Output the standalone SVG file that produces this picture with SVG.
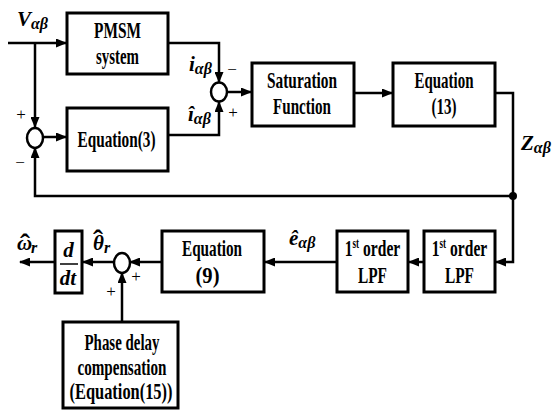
<svg xmlns="http://www.w3.org/2000/svg" width="557" height="410" viewBox="0 0 557 410">
<style>
.box{fill:#fff;stroke:#000;stroke-width:3}
.ln{fill:none;stroke:#000;stroke-width:2.5}
.t{font-family:"Liberation Serif","Times New Roman",serif;font-weight:bold;font-size:24px;text-anchor:middle;fill:#000}
.lab{font-family:"Liberation Serif","Times New Roman",serif;font-weight:bold;font-style:italic;font-size:21px;fill:#000}
.sub{font-size:16px}
.hat{font-size:30px;font-style:normal}
.sg{font-family:"Liberation Serif","Times New Roman",serif;font-size:17px;text-anchor:middle;fill:#000}
.sum{fill:#fff;stroke:#000;stroke-width:2.5}
</style>
<defs>
<marker id="ar" markerUnits="userSpaceOnUse" markerWidth="11" markerHeight="9" refX="10" refY="4.5" orient="auto">
<path d="M0,0 L11,4.5 L0,9 z" fill="#000"/>
</marker>
</defs>
<g id="connectors">
<path class="ln" d="M8,43 H66" marker-end="url(#ar)"/>
<path class="ln" d="M35,43 V127" marker-end="url(#ar)"/>
<path class="ln" d="M43,137 H66" marker-end="url(#ar)"/>
<path class="ln" d="M168,43 H219 V82" marker-end="url(#ar)"/>
<path class="ln" d="M168,135 H219 V102" marker-end="url(#ar)"/>
<path class="ln" d="M227,92 H251" marker-end="url(#ar)"/>
<path class="ln" d="M354,93 H392" marker-end="url(#ar)"/>
<path class="ln" d="M495,93 H513 V262 H496" marker-end="url(#ar)"/>
<path class="ln" d="M513,196 H35 V148" marker-end="url(#ar)"/>
<circle cx="513" cy="196" r="4" fill="#000"/>
<path class="ln" d="M424,262 H409" marker-end="url(#ar)"/>
<path class="ln" d="M337,262 H265" marker-end="url(#ar)"/>
<path class="ln" d="M162,262 H130" marker-end="url(#ar)"/>
<path class="ln" d="M114,262 H83" marker-end="url(#ar)"/>
<path class="ln" d="M55,262 H20" marker-end="url(#ar)"/>
<path class="ln" d="M122,322 V273" marker-end="url(#ar)"/>
</g>
<g id="sum1"><ellipse class="sum" cx="35" cy="138" rx="8" ry="10"/>
<text class="sg" x="21" y="120">+</text><text class="sg" x="20" y="168">−</text></g>
<g id="sum2"><ellipse class="sum" cx="219" cy="92" rx="8" ry="9.5"/>
<text class="sg" x="232" y="75">−</text><text class="sg" x="233" y="118">+</text></g>
<g id="sum3"><ellipse class="sum" cx="122" cy="263" rx="8" ry="10"/>
<text class="sg" x="136" y="282">+</text><text class="sg" x="111" y="297">+</text></g>
<g id="pmsm"><rect class="box" x="67" y="13" width="101" height="61"/>
<text class="t" x="117.5" y="38" textLength="47" lengthAdjust="spacingAndGlyphs">PMSM</text>
<text class="t" x="117.5" y="64" textLength="43" lengthAdjust="spacingAndGlyphs">system</text></g>
<g id="eq3"><rect class="box" x="67" y="108" width="101" height="63"/>
<text class="t" x="116.5" y="147" textLength="78" lengthAdjust="spacingAndGlyphs">Equation(3)</text></g>
<g id="sat"><rect class="box" x="252" y="63" width="102" height="63"/>
<text class="t" x="302" y="88" textLength="70" lengthAdjust="spacingAndGlyphs">Saturation</text>
<text class="t" x="302" y="114" textLength="58" lengthAdjust="spacingAndGlyphs">Function</text></g>
<g id="eq13"><rect class="box" x="393" y="63" width="102" height="63"/>
<text class="t" x="444" y="88" textLength="59" lengthAdjust="spacingAndGlyphs">Equation</text>
<text class="t" x="444" y="114" textLength="25" lengthAdjust="spacingAndGlyphs">(13)</text></g>
<g id="lpf2"><rect class="box" x="424" y="231" width="71" height="61"/>
<text class="t" transform="translate(459.5,256) scale(0.65,1)">1<tspan font-size="14" dy="-8">st</tspan><tspan dy="8"> order</tspan></text>
<text class="t" x="459.5" y="283" textLength="29" lengthAdjust="spacingAndGlyphs">LPF</text></g>
<g id="lpf1"><rect class="box" x="337" y="231" width="71" height="61"/>
<text class="t" transform="translate(372.5,256) scale(0.65,1)">1<tspan font-size="14" dy="-8">st</tspan><tspan dy="8"> order</tspan></text>
<text class="t" x="372.5" y="283" textLength="29" lengthAdjust="spacingAndGlyphs">LPF</text></g>
<g id="eq9"><rect class="box" x="162" y="231" width="102" height="61"/>
<text class="t" x="212" y="256" textLength="60" lengthAdjust="spacingAndGlyphs">Equation</text>
<text class="t" x="207.5" y="283" textLength="24" lengthAdjust="spacingAndGlyphs">(9)</text></g>
<g id="ddt"><rect class="box" x="55" y="231" width="27" height="62"/>
<text class="lab" x="68.5" y="257" text-anchor="middle" font-size="22">d</text>
<line x1="60" y1="264" x2="78" y2="264" stroke="#000" stroke-width="1.5"/>
<text class="lab" x="68" y="285" text-anchor="middle" font-size="22">dt</text></g>
<g id="phase"><rect class="box" x="63" y="322" width="115" height="86"/>
<text class="t" x="122" y="350" textLength="75" lengthAdjust="spacingAndGlyphs">Phase delay</text>
<text class="t" x="122" y="375" textLength="89" lengthAdjust="spacingAndGlyphs">compensation</text>
<text class="t" x="121" y="399" textLength="103" lengthAdjust="spacingAndGlyphs">(Equation(15))</text></g>
<g id="labels">
<text class="lab" x="17" y="26">V<tspan class="sub" dy="3">αβ</tspan></text>
<text class="lab" x="189" y="71">i<tspan class="sub" dy="3">αβ</tspan></text>
<text class="lab" x="188" y="121">î<tspan class="sub" dy="3">αβ</tspan></text>
<text class="lab" x="521" y="150">Z<tspan class="sub" dy="3">αβ</tspan></text>
<text class="lab" x="289" y="245">ê<tspan class="sub" dy="3">αβ</tspan></text>
<text class="lab" x="17" y="250">ω<tspan class="hat" x="20" y="254">ˆ</tspan><tspan class="sub" x="31" y="253">r</tspan></text>
<text class="lab" x="93" y="250">θ<tspan class="hat" x="93" y="250">ˆ</tspan><tspan class="sub" x="104" y="253">r</tspan></text>
</g>
</svg>
